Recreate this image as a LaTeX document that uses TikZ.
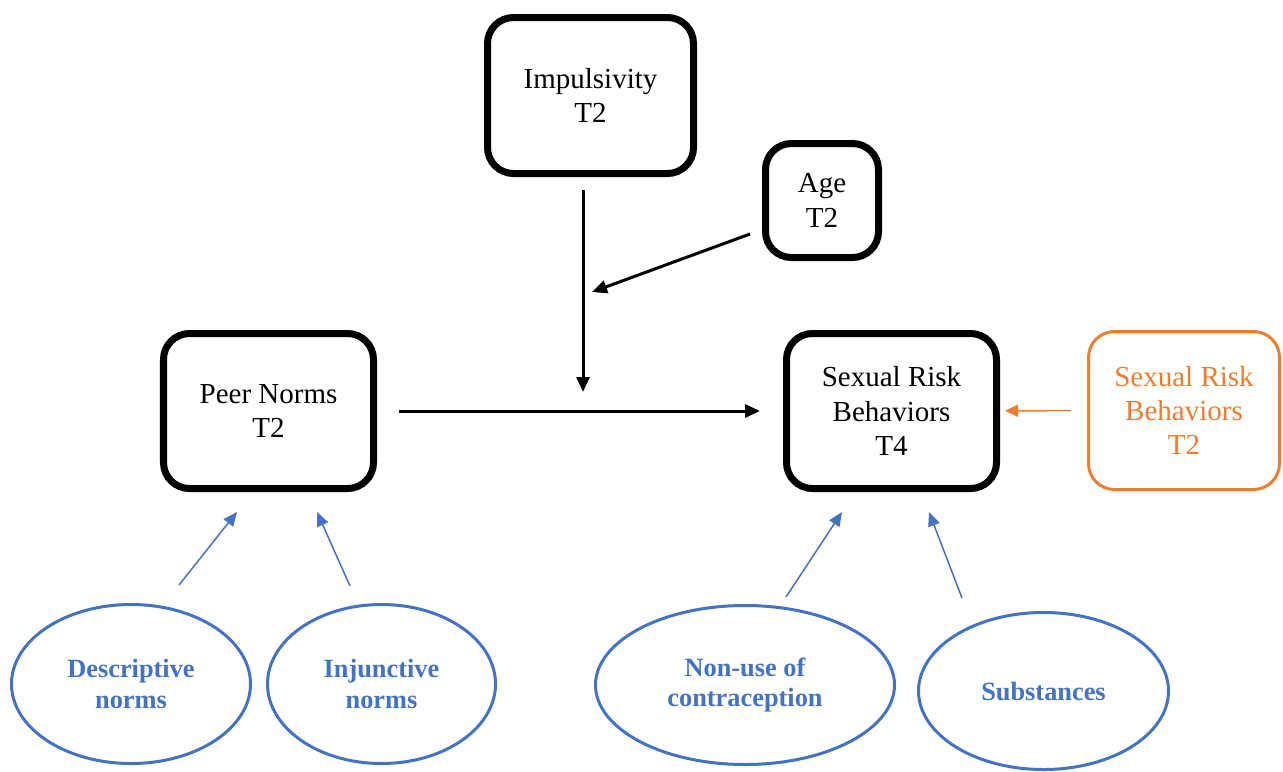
\documentclass[tikz,border=0pt]{standalone}
\usepackage{fontspec}
\setmainfont{Liberation Serif}
\usetikzlibrary{arrows.meta,shapes.geometric}
\definecolor{normblue}{HTML}{4472C4}
\definecolor{priororange}{HTML}{ED7D31}

\begin{document}
\begin{tikzpicture}
	[x=0.2mm,y=-0.2mm,
	construct/.style={draw,rounded corners=5.2mm,line width=1.4mm,align=center,inner sep=0pt,
		font=\fontsize{16.5}{19.5}\selectfont},
	prior/.style={construct,draw=priororange,text=priororange,line width=0.6mm},
	indicator/.style={draw=normblue,ellipse,line width=0.6mm,align=center,inner sep=0pt,
		text=normblue,font=\bfseries\fontsize{15}{17.5}\selectfont},
	path/.style={line width=0.6mm,-{Triangle[length=3mm,width=2.6mm]}},
	load/.style={draw=normblue,line width=0.3mm,-{Triangle[length=2.8mm,width=2.4mm]}},
	stab/.style={draw=priororange,line width=0.3mm,-{Triangle[length=2.6mm,width=2.4mm]}}
	]
	\useasboundingbox (0,0) rectangle (1283,771);
	% constructs
	\node[construct,minimum width=41.2mm,minimum height=31.2mm] (imp) at (590.5,95.5) {Impulsivity\\T2};
	\node[construct,minimum width=22.6mm,minimum height=22.8mm] (age) at (822,200.5) {Age\\T2};
	\node[construct,minimum width=42mm,minimum height=31mm] (peer) at (268.5,411) {Peer Norms\\T2};
	\node[construct,minimum width=42mm,minimum height=31mm] (srb4) at (891.5,411) {Sexual Risk\\Behaviors\\T4};
	\node[prior,minimum width=38.2mm,minimum height=31.6mm] (srb2) at (1184,410.5) {Sexual Risk\\Behaviors\\T2};
	% indicators
	\node[indicator,minimum width=47.8mm,minimum height=31.8mm] (desc) at (131,684) {Descriptive\\norms};
	\node[indicator,minimum width=45.6mm,minimum height=31.8mm] (inj) at (381.5,684) {Injunctive\\norms};
	\node[indicator,minimum width=59.8mm,minimum height=31.8mm] (nonuse) at (745,685) {Non-use of\\contraception};
	\node[indicator,minimum width=50mm,minimum height=31.4mm] (subst) at (1043.5,691) {Substances};
	% arrow ends
	\coordinate (impOut) at (583,190);
	\coordinate (mid) at (583,392);
	\coordinate (ageOut) at (750,234);
	\coordinate (ageIn) at (592,292);
	\coordinate (descOut) at (179,585);
	\coordinate (descIn) at (237,512);
	\coordinate (injOut) at (350,586);
	\coordinate (injIn) at (317,512);
	\coordinate (nonuseOut) at (786,597);
	\coordinate (nonuseIn) at (842,512);
	\coordinate (substOut) at (962,598);
	\coordinate (substIn) at (929,512);
	% paths
	\draw[path] (peer) -- (srb4)
		[shorten <=4.4mm,shorten >=4.6mm];
	\draw[path] (impOut) -- (mid);
	\draw[path] (ageOut) -- (ageIn);
	\draw[stab] (srb2) -- (srb4)
		[shorten <=3.2mm,shorten >=1mm];
	\draw[load] (descOut) -- (descIn);
	\draw[load] (injOut) -- (injIn);
	\draw[load] (nonuseOut) -- (nonuseIn);
	\draw[load] (substOut) -- (substIn);
\end{tikzpicture}
\end{document}
